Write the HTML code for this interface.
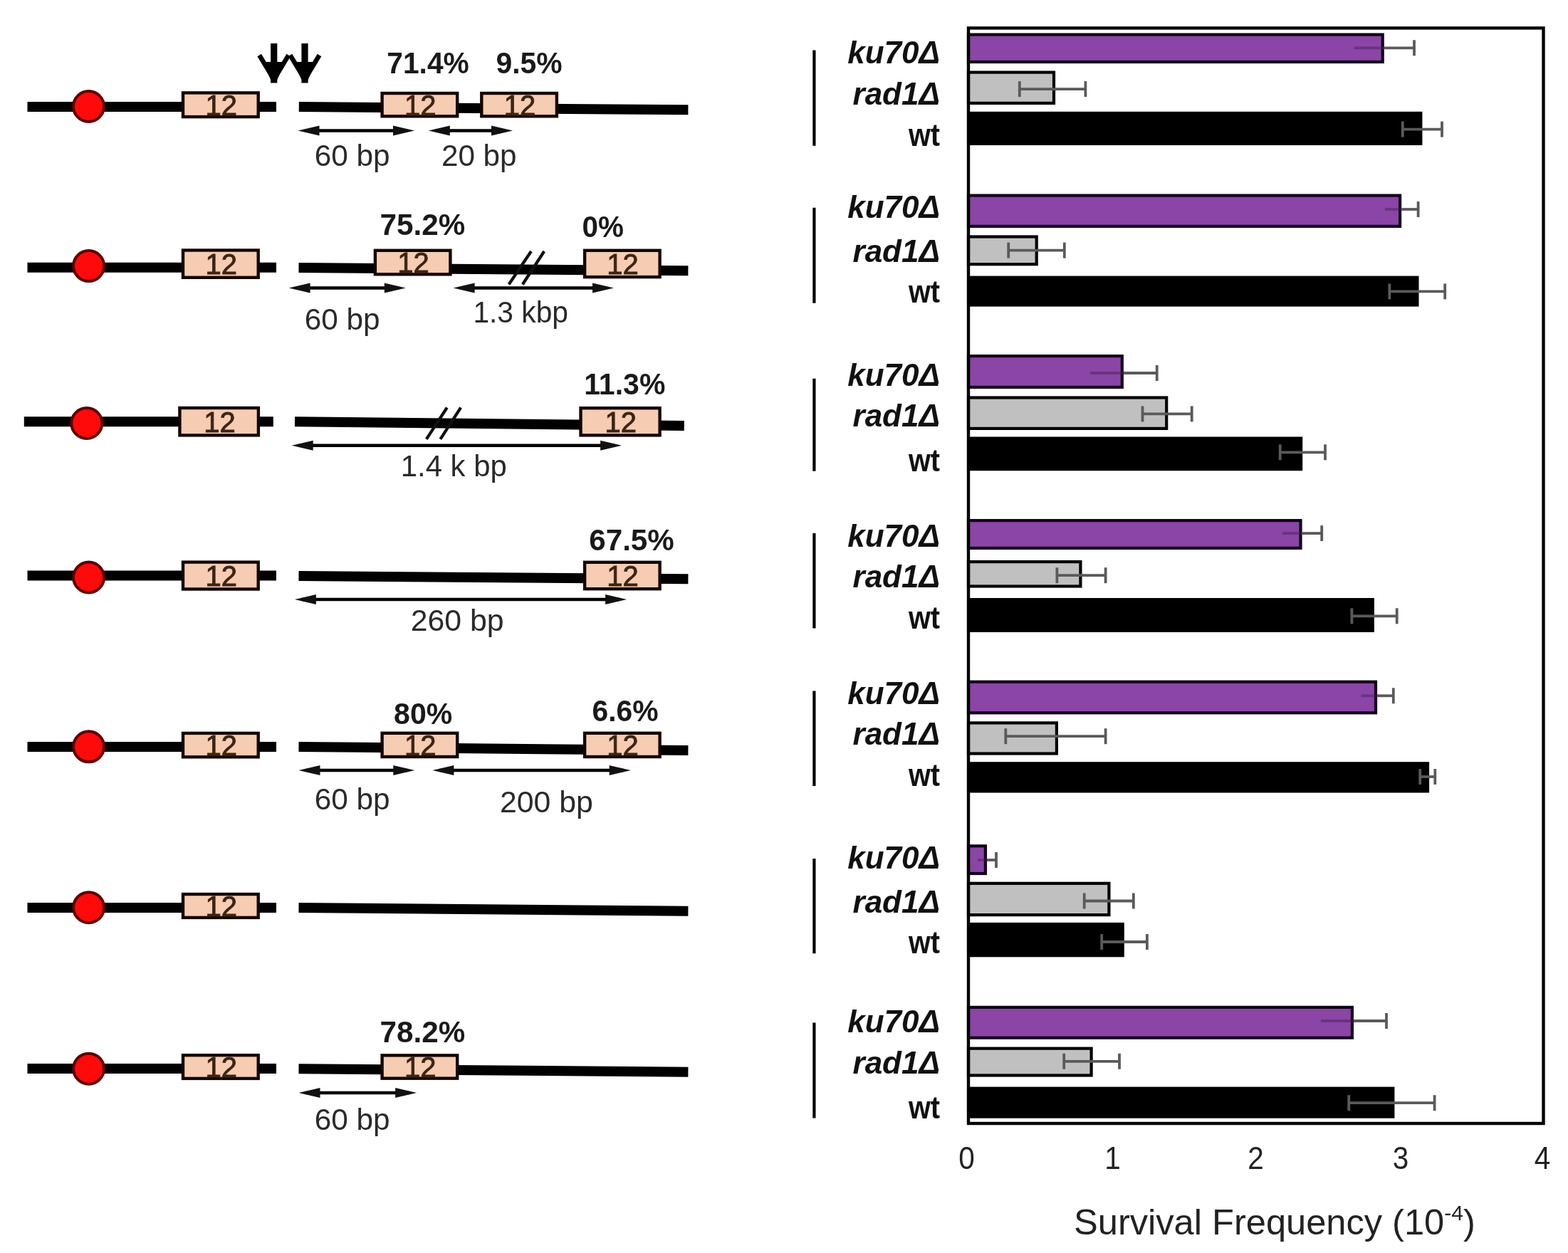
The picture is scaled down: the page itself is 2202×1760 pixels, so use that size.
<!DOCTYPE html>
<html><head><meta charset="utf-8"><title>Survival frequency figure</title>
<style>
html,body{margin:0;padding:0;background:#fff;}
svg{display:block;}
text{font-family:"Liberation Sans", Arial, sans-serif;}
</style></head>
<body>
<svg width="2202" height="1760" viewBox="0 0 2202 1760">
<rect width="2202" height="1760" fill="#fff"/>
<g>
<rect width="2202" height="1760" fill="#fff"/>
<line x1="38.5" y1="150" x2="388" y2="150" stroke="#000" stroke-width="14"/>
<line x1="419.8" y1="150" x2="966.4" y2="154.3" stroke="#000" stroke-width="14"/>
<line x1="38.5" y1="375.8" x2="388" y2="375.8" stroke="#000" stroke-width="14"/>
<line x1="419.5" y1="376" x2="966.4" y2="380.2" stroke="#000" stroke-width="14"/>
<line x1="33.8" y1="592.3" x2="383.8" y2="592.3" stroke="#000" stroke-width="14"/>
<line x1="414" y1="592.3" x2="960.8" y2="598.1" stroke="#000" stroke-width="14"/>
<line x1="38.5" y1="808.5" x2="388" y2="808.5" stroke="#000" stroke-width="14"/>
<line x1="419.5" y1="809" x2="966.4" y2="813.2" stroke="#000" stroke-width="14"/>
<line x1="38.5" y1="1049" x2="388" y2="1049" stroke="#000" stroke-width="14"/>
<line x1="419.5" y1="1049" x2="966.4" y2="1054" stroke="#000" stroke-width="14"/>
<line x1="38.5" y1="1275" x2="388" y2="1275" stroke="#000" stroke-width="14"/>
<line x1="419.5" y1="1275" x2="966.4" y2="1279.7" stroke="#000" stroke-width="14"/>
<line x1="38.5" y1="1501" x2="388" y2="1501" stroke="#000" stroke-width="14"/>
<line x1="419.5" y1="1501.3" x2="966.4" y2="1505.7" stroke="#000" stroke-width="14"/>
<line x1="714.6" y1="399.5" x2="745.9" y2="353" stroke="#111" stroke-width="4.2"/>
<line x1="733.9" y1="399.5" x2="764.2" y2="353" stroke="#111" stroke-width="4.2"/>
<line x1="598.8" y1="616.9" x2="627.8" y2="572.5" stroke="#111" stroke-width="4.2"/>
<line x1="618.4" y1="616.9" x2="647.1" y2="572.5" stroke="#111" stroke-width="4.2"/>
<circle cx="124.5" cy="149.5" r="21.5" fill="#ff0a0a" stroke="#5c0000" stroke-width="4"/>
<rect x="257.0" y="130.4" width="105.7" height="33.7" fill="#f6ccb2" stroke="#140500" stroke-width="4.4"/>
<text x="310.7" y="161.8" font-size="40" fill="#3d2413" stroke="#3d2413" stroke-width="0.9" text-anchor="middle">12</text>
<circle cx="124.6" cy="373.6" r="21.5" fill="#ff0a0a" stroke="#5c0000" stroke-width="4"/>
<rect x="257.0" y="351.5" width="105.7" height="38.3" fill="#f6ccb2" stroke="#140500" stroke-width="4.4"/>
<text x="310.7" y="385.1" font-size="40" fill="#3d2413" stroke="#3d2413" stroke-width="0.9" text-anchor="middle">12</text>
<circle cx="121.8" cy="594.5" r="21.5" fill="#ff0a0a" stroke="#5c0000" stroke-width="4"/>
<rect x="252.4" y="573.0" width="110.5" height="38.4" fill="#f6ccb2" stroke="#140500" stroke-width="4.4"/>
<text x="308.4" y="606.7" font-size="40" fill="#3d2413" stroke="#3d2413" stroke-width="0.9" text-anchor="middle">12</text>
<circle cx="124.6" cy="811" r="21.5" fill="#ff0a0a" stroke="#5c0000" stroke-width="4"/>
<rect x="257.0" y="789.6" width="105.7" height="37.9" fill="#f6ccb2" stroke="#140500" stroke-width="4.4"/>
<text x="310.7" y="823.0" font-size="40" fill="#3d2413" stroke="#3d2413" stroke-width="0.9" text-anchor="middle">12</text>
<circle cx="124.6" cy="1048.8" r="21.5" fill="#ff0a0a" stroke="#5c0000" stroke-width="4"/>
<rect x="257.0" y="1029.9" width="105.7" height="33.4" fill="#f6ccb2" stroke="#140500" stroke-width="4.4"/>
<text x="310.7" y="1061.1" font-size="40" fill="#3d2413" stroke="#3d2413" stroke-width="0.9" text-anchor="middle">12</text>
<circle cx="124.6" cy="1274.7" r="21.5" fill="#ff0a0a" stroke="#5c0000" stroke-width="4"/>
<rect x="257.0" y="1256.0" width="105.7" height="32.9" fill="#f6ccb2" stroke="#140500" stroke-width="4.4"/>
<text x="310.7" y="1286.9" font-size="40" fill="#3d2413" stroke="#3d2413" stroke-width="0.9" text-anchor="middle">12</text>
<circle cx="124.6" cy="1501.2" r="21.5" fill="#ff0a0a" stroke="#5c0000" stroke-width="4"/>
<rect x="257.0" y="1482.2" width="105.7" height="32.7" fill="#f6ccb2" stroke="#140500" stroke-width="4.4"/>
<text x="310.7" y="1513.0" font-size="40" fill="#3d2413" stroke="#3d2413" stroke-width="0.9" text-anchor="middle">12</text>
<rect x="536.6" y="131.0" width="105.6" height="32.3" fill="#f6ccb2" stroke="#140500" stroke-width="4.4"/>
<text x="590.2" y="161.7" font-size="40" fill="#3d2413" stroke="#3d2413" stroke-width="0.9" text-anchor="middle">12</text>
<rect x="676.3" y="131.0" width="105.6" height="32.3" fill="#f6ccb2" stroke="#140500" stroke-width="4.4"/>
<text x="729.9" y="161.7" font-size="40" fill="#3d2413" stroke="#3d2413" stroke-width="0.9" text-anchor="middle">12</text>
<rect x="526.9" y="351.8" width="105.5" height="33.5" fill="#f6ccb2" stroke="#140500" stroke-width="4.4"/>
<text x="580.5" y="383.1" font-size="40" fill="#3d2413" stroke="#3d2413" stroke-width="0.9" text-anchor="middle">12</text>
<rect x="821.1" y="351.8" width="105.5" height="37.3" fill="#f6ccb2" stroke="#140500" stroke-width="4.4"/>
<text x="874.6" y="385.0" font-size="40" fill="#3d2413" stroke="#3d2413" stroke-width="0.9" text-anchor="middle">12</text>
<rect x="815.5" y="573.2" width="111.1" height="38.2" fill="#f6ccb2" stroke="#140500" stroke-width="4.4"/>
<text x="871.8" y="606.8" font-size="40" fill="#3d2413" stroke="#3d2413" stroke-width="0.9" text-anchor="middle">12</text>
<rect x="821.1" y="789.8" width="105.5" height="37.4" fill="#f6ccb2" stroke="#140500" stroke-width="4.4"/>
<text x="874.6" y="823.0" font-size="40" fill="#3d2413" stroke="#3d2413" stroke-width="0.9" text-anchor="middle">12</text>
<rect x="536.6" y="1029.8" width="105.6" height="33.2" fill="#f6ccb2" stroke="#140500" stroke-width="4.4"/>
<text x="590.2" y="1060.9" font-size="40" fill="#3d2413" stroke="#3d2413" stroke-width="0.9" text-anchor="middle">12</text>
<rect x="821.1" y="1029.8" width="105.5" height="33.2" fill="#f6ccb2" stroke="#140500" stroke-width="4.4"/>
<text x="874.6" y="1060.9" font-size="40" fill="#3d2413" stroke="#3d2413" stroke-width="0.9" text-anchor="middle">12</text>
<rect x="536.6" y="1482.4" width="105.6" height="32.3" fill="#f6ccb2" stroke="#140500" stroke-width="4.4"/>
<text x="590.2" y="1513.1" font-size="40" fill="#3d2413" stroke="#3d2413" stroke-width="0.9" text-anchor="middle">12</text>
<rect x="380.09999999999997" y="61" width="9.2" height="55.5" fill="#000"/>
<line x1="364.2" y1="77.5" x2="383.7" y2="110" stroke="#000" stroke-width="6.5"/>
<line x1="405.2" y1="77.5" x2="385.7" y2="110" stroke="#000" stroke-width="6.5"/>
<polygon points="369.7,87 399.7,87 389.3,112 380.09999999999997,112" fill="#000"/>
<rect x="423.4" y="61" width="9.2" height="55.5" fill="#000"/>
<line x1="407.5" y1="77.5" x2="427.0" y2="110" stroke="#000" stroke-width="6.5"/>
<line x1="448.5" y1="77.5" x2="429.0" y2="110" stroke="#000" stroke-width="6.5"/>
<polygon points="413.0,87 443.0,87 432.6,112 423.4,112" fill="#000"/>
<text x="543.3" y="102.5" font-size="42" font-weight="bold" fill="#1a1a1a" textLength="115.5" lengthAdjust="spacingAndGlyphs">71.4%</text>
<text x="696.4" y="102.5" font-size="42" font-weight="bold" fill="#1a1a1a" textLength="93.2" lengthAdjust="spacingAndGlyphs">9.5%</text>
<text x="533.6" y="330" font-size="42" font-weight="bold" fill="#1a1a1a" textLength="119.7" lengthAdjust="spacingAndGlyphs">75.2%</text>
<text x="817.5" y="332.5" font-size="42" font-weight="bold" fill="#1a1a1a" textLength="58.4" lengthAdjust="spacingAndGlyphs">0%</text>
<text x="820.3" y="554" font-size="42" font-weight="bold" fill="#1a1a1a" textLength="114.1" lengthAdjust="spacingAndGlyphs">11.3%</text>
<text x="827.2" y="772.5" font-size="42" font-weight="bold" fill="#1a1a1a" textLength="119.7" lengthAdjust="spacingAndGlyphs">67.5%</text>
<text x="553.1" y="1017" font-size="42" font-weight="bold" fill="#1a1a1a" textLength="82.1" lengthAdjust="spacingAndGlyphs">80%</text>
<text x="831.4" y="1012.5" font-size="42" font-weight="bold" fill="#1a1a1a" textLength="93.2" lengthAdjust="spacingAndGlyphs">6.6%</text>
<text x="533.6" y="1464" font-size="42" font-weight="bold" fill="#1a1a1a" textLength="119.7" lengthAdjust="spacingAndGlyphs">78.2%</text>
<line x1="428.5" y1="183.5" x2="572" y2="183.5" stroke="#000" stroke-width="4.4"/>
<polygon points="418.5,183.5 448.5,176.5 448.5,190.5" fill="#111"/>
<polygon points="582,183.5 552,176.5 552,190.5" fill="#111"/>
<line x1="611.8" y1="183.5" x2="710" y2="183.5" stroke="#000" stroke-width="4.4"/>
<polygon points="601.8,183.5 631.8,176.5 631.8,190.5" fill="#111"/>
<polygon points="720,183.5 690,176.5 690,190.5" fill="#111"/>
<line x1="415.6" y1="404.5" x2="559.8" y2="404.5" stroke="#000" stroke-width="4.4"/>
<polygon points="405.6,404.5 435.6,397.5 435.6,411.5" fill="#111"/>
<polygon points="569.8,404.5 539.8,397.5 539.8,411.5" fill="#111"/>
<line x1="646.6" y1="404.5" x2="852" y2="404.5" stroke="#000" stroke-width="4.4"/>
<polygon points="636.6,404.5 666.6,397.5 666.6,411.5" fill="#111"/>
<polygon points="862,404.5 832,397.5 832,411.5" fill="#111"/>
<line x1="419.7" y1="625.8" x2="863.1" y2="625.8" stroke="#000" stroke-width="4.4"/>
<polygon points="409.7,625.8 439.7,618.8 439.7,632.8" fill="#111"/>
<polygon points="873.1,625.8 843.1,618.8 843.1,632.8" fill="#111"/>
<line x1="423.9" y1="842" x2="870.1" y2="842" stroke="#000" stroke-width="4.4"/>
<polygon points="413.9,842 443.9,835 443.9,849" fill="#111"/>
<polygon points="880.1,842 850.1,835 850.1,849" fill="#111"/>
<line x1="429.5" y1="1082" x2="572.3" y2="1082" stroke="#000" stroke-width="4.4"/>
<polygon points="419.5,1082 449.5,1075 449.5,1089" fill="#111"/>
<polygon points="582.3,1082 552.3,1075 552.3,1089" fill="#111"/>
<line x1="617.4" y1="1082" x2="875.7" y2="1082" stroke="#000" stroke-width="4.4"/>
<polygon points="607.4,1082 637.4,1075 637.4,1089" fill="#111"/>
<polygon points="885.7,1082 855.7,1075 855.7,1089" fill="#111"/>
<line x1="429.5" y1="1535" x2="575.1" y2="1535" stroke="#000" stroke-width="4.4"/>
<polygon points="419.5,1535 449.5,1528 449.5,1542" fill="#111"/>
<polygon points="585.1,1535 555.1,1528 555.1,1542" fill="#111"/>
<text x="441.7" y="232.5" font-size="42" fill="#2a2a2a" textLength="105.8" lengthAdjust="spacingAndGlyphs">60 bp</text>
<text x="619.9" y="232.5" font-size="42" fill="#2a2a2a" textLength="105.7" lengthAdjust="spacingAndGlyphs">20 bp</text>
<text x="427.8" y="462.5" font-size="42" fill="#2a2a2a" textLength="105.8" lengthAdjust="spacingAndGlyphs">60 bp</text>
<text x="664.4" y="453" font-size="42" fill="#2a2a2a" textLength="133.6" lengthAdjust="spacingAndGlyphs">1.3 kbp</text>
<text x="562.8" y="668.8" font-size="42" fill="#2a2a2a" textLength="148.9" lengthAdjust="spacingAndGlyphs">1.4 k bp</text>
<text x="576.7" y="886" font-size="42" fill="#2a2a2a" textLength="130.8" lengthAdjust="spacingAndGlyphs">260 bp</text>
<text x="441.7" y="1137" font-size="42" fill="#2a2a2a" textLength="105.8" lengthAdjust="spacingAndGlyphs">60 bp</text>
<text x="702" y="1141.3" font-size="42" fill="#2a2a2a" textLength="130.8" lengthAdjust="spacingAndGlyphs">200 bp</text>
<text x="441.7" y="1587" font-size="42" fill="#2a2a2a" textLength="105.8" lengthAdjust="spacingAndGlyphs">60 bp</text>
<rect x="1360" y="48.6" width="581.7" height="38.4" fill="#8a45a6" stroke="#12001a" stroke-width="4.2"/>
<rect x="1360" y="101.6" width="120.0" height="43.3" fill="#c0c0c0" stroke="#000" stroke-width="4.2"/>
<rect x="1360" y="156.8" width="637.4" height="47.2" fill="#000"/>
<line x1="1901.6" y1="67.3" x2="1943.8" y2="67.3" stroke="#4a2060" stroke-width="3.8" opacity="0.5"/>
<line x1="1943.8" y1="67.3" x2="1986" y2="67.3" stroke="#5a5a5a" stroke-width="3.8"/>
<line x1="1986" y1="56.3" x2="1986" y2="78.3" stroke="#5a5a5a" stroke-width="3.8"/>
<line x1="1431.8" y1="125.1" x2="1524.4" y2="125.1" stroke="#5a5a5a" stroke-width="3.8"/>
<line x1="1431.8" y1="114.1" x2="1431.8" y2="136.1" stroke="#5a5a5a" stroke-width="3.8"/>
<line x1="1524.4" y1="114.1" x2="1524.4" y2="136.1" stroke="#5a5a5a" stroke-width="3.8"/>
<line x1="1969.8" y1="181.6" x2="2025" y2="181.6" stroke="#5a5a5a" stroke-width="3.8"/>
<line x1="1969.8" y1="170.6" x2="1969.8" y2="192.6" stroke="#5a5a5a" stroke-width="3.8"/>
<line x1="2025" y1="170.6" x2="2025" y2="192.6" stroke="#5a5a5a" stroke-width="3.8"/>
<rect x="1360" y="274.6" width="606.1" height="43.3" fill="#8a45a6" stroke="#12001a" stroke-width="4.2"/>
<rect x="1360" y="332.5" width="95.7" height="38.7" fill="#c0c0c0" stroke="#000" stroke-width="4.2"/>
<rect x="1360" y="387.6" width="632.5" height="43.0" fill="#000"/>
<line x1="1944.8" y1="294" x2="1968.2" y2="294" stroke="#4a2060" stroke-width="3.8" opacity="0.5"/>
<line x1="1968.2" y1="294" x2="1991.6" y2="294" stroke="#5a5a5a" stroke-width="3.8"/>
<line x1="1991.6" y1="283" x2="1991.6" y2="305" stroke="#5a5a5a" stroke-width="3.8"/>
<line x1="1416.2" y1="351.6" x2="1494.8" y2="351.6" stroke="#5a5a5a" stroke-width="3.8"/>
<line x1="1416.2" y1="340.6" x2="1416.2" y2="362.6" stroke="#5a5a5a" stroke-width="3.8"/>
<line x1="1494.8" y1="340.6" x2="1494.8" y2="362.6" stroke="#5a5a5a" stroke-width="3.8"/>
<line x1="1951.3" y1="409.4" x2="2029.2" y2="409.4" stroke="#5a5a5a" stroke-width="3.8"/>
<line x1="1951.3" y1="398.4" x2="1951.3" y2="420.4" stroke="#5a5a5a" stroke-width="3.8"/>
<line x1="2029.2" y1="398.4" x2="2029.2" y2="420.4" stroke="#5a5a5a" stroke-width="3.8"/>
<rect x="1360" y="500.1" width="215.8" height="43.8" fill="#8a45a6" stroke="#12001a" stroke-width="4.2"/>
<rect x="1360" y="558.5" width="278.2" height="43.4" fill="#c0c0c0" stroke="#000" stroke-width="4.2"/>
<rect x="1360" y="613.5" width="469.2" height="47.7" fill="#000"/>
<line x1="1531.1" y1="524" x2="1577.9" y2="524" stroke="#4a2060" stroke-width="3.8" opacity="0.5"/>
<line x1="1577.9" y1="524" x2="1624.7" y2="524" stroke="#5a5a5a" stroke-width="3.8"/>
<line x1="1624.7" y1="513" x2="1624.7" y2="535" stroke="#5a5a5a" stroke-width="3.8"/>
<line x1="1604.5" y1="581.4" x2="1673.7" y2="581.4" stroke="#5a5a5a" stroke-width="3.8"/>
<line x1="1604.5" y1="570.4" x2="1604.5" y2="592.4" stroke="#5a5a5a" stroke-width="3.8"/>
<line x1="1673.7" y1="570.4" x2="1673.7" y2="592.4" stroke="#5a5a5a" stroke-width="3.8"/>
<line x1="1797.7" y1="635.3" x2="1861" y2="635.3" stroke="#5a5a5a" stroke-width="3.8"/>
<line x1="1797.7" y1="624.3" x2="1797.7" y2="646.3" stroke="#5a5a5a" stroke-width="3.8"/>
<line x1="1861" y1="624.3" x2="1861" y2="646.3" stroke="#5a5a5a" stroke-width="3.8"/>
<rect x="1360" y="731.1" width="466.5" height="38.8" fill="#8a45a6" stroke="#12001a" stroke-width="4.2"/>
<rect x="1360" y="789.1" width="157.4" height="34.4" fill="#c0c0c0" stroke="#000" stroke-width="4.2"/>
<rect x="1360" y="840.0" width="569.9" height="48.0" fill="#000"/>
<line x1="1801" y1="749.1" x2="1828.6" y2="749.1" stroke="#4a2060" stroke-width="3.8" opacity="0.5"/>
<line x1="1828.6" y1="749.1" x2="1856.2" y2="749.1" stroke="#5a5a5a" stroke-width="3.8"/>
<line x1="1856.2" y1="738.1" x2="1856.2" y2="760.1" stroke="#5a5a5a" stroke-width="3.8"/>
<line x1="1484.4" y1="808.2" x2="1552.6" y2="808.2" stroke="#5a5a5a" stroke-width="3.8"/>
<line x1="1484.4" y1="797.2" x2="1484.4" y2="819.2" stroke="#5a5a5a" stroke-width="3.8"/>
<line x1="1552.6" y1="797.2" x2="1552.6" y2="819.2" stroke="#5a5a5a" stroke-width="3.8"/>
<line x1="1898.4" y1="865.3" x2="1961.7" y2="865.3" stroke="#5a5a5a" stroke-width="3.8"/>
<line x1="1898.4" y1="854.3" x2="1898.4" y2="876.3" stroke="#5a5a5a" stroke-width="3.8"/>
<line x1="1961.7" y1="854.3" x2="1961.7" y2="876.3" stroke="#5a5a5a" stroke-width="3.8"/>
<rect x="1360" y="957.7" width="572.0" height="43.6" fill="#8a45a6" stroke="#12001a" stroke-width="4.2"/>
<rect x="1360" y="1015.4" width="123.9" height="43.1" fill="#c0c0c0" stroke="#000" stroke-width="4.2"/>
<rect x="1360" y="1070.2" width="647.1" height="43.3" fill="#000"/>
<line x1="1911.4" y1="977.3" x2="1934.1" y2="977.3" stroke="#4a2060" stroke-width="3.8" opacity="0.5"/>
<line x1="1934.1" y1="977.3" x2="1956.8" y2="977.3" stroke="#5a5a5a" stroke-width="3.8"/>
<line x1="1956.8" y1="966.3" x2="1956.8" y2="988.3" stroke="#5a5a5a" stroke-width="3.8"/>
<line x1="1412.3" y1="1034.2" x2="1552.6" y2="1034.2" stroke="#5a5a5a" stroke-width="3.8"/>
<line x1="1412.3" y1="1023.2" x2="1412.3" y2="1045.2" stroke="#5a5a5a" stroke-width="3.8"/>
<line x1="1552.6" y1="1023.2" x2="1552.6" y2="1045.2" stroke="#5a5a5a" stroke-width="3.8"/>
<line x1="1994.2" y1="1091" x2="2015.3" y2="1091" stroke="#5a5a5a" stroke-width="3.8"/>
<line x1="1994.2" y1="1080" x2="1994.2" y2="1102" stroke="#5a5a5a" stroke-width="3.8"/>
<line x1="2015.3" y1="1080" x2="2015.3" y2="1102" stroke="#5a5a5a" stroke-width="3.8"/>
<rect x="1360" y="1188.3" width="23.9" height="38.7" fill="#8a45a6" stroke="#12001a" stroke-width="4.2"/>
<rect x="1360" y="1240.8" width="197.4" height="44.3" fill="#c0c0c0" stroke="#000" stroke-width="4.2"/>
<rect x="1360" y="1295.9" width="218.8" height="48.4" fill="#000"/>
<line x1="1373" y1="1208" x2="1386" y2="1208" stroke="#4a2060" stroke-width="3.8" opacity="0.5"/>
<line x1="1386" y1="1208" x2="1399" y2="1208" stroke="#5a5a5a" stroke-width="3.8"/>
<line x1="1399" y1="1197" x2="1399" y2="1219" stroke="#5a5a5a" stroke-width="3.8"/>
<line x1="1522.7" y1="1265.5" x2="1591.8" y2="1265.5" stroke="#5a5a5a" stroke-width="3.8"/>
<line x1="1522.7" y1="1254.5" x2="1522.7" y2="1276.5" stroke="#5a5a5a" stroke-width="3.8"/>
<line x1="1591.8" y1="1254.5" x2="1591.8" y2="1276.5" stroke="#5a5a5a" stroke-width="3.8"/>
<line x1="1547.2" y1="1323" x2="1610.9" y2="1323" stroke="#5a5a5a" stroke-width="3.8"/>
<line x1="1547.2" y1="1312" x2="1547.2" y2="1334" stroke="#5a5a5a" stroke-width="3.8"/>
<line x1="1610.9" y1="1312" x2="1610.9" y2="1334" stroke="#5a5a5a" stroke-width="3.8"/>
<rect x="1360" y="1414.9" width="538.9" height="42.8" fill="#8a45a6" stroke="#12001a" stroke-width="4.2"/>
<rect x="1360" y="1472.7" width="172.6" height="37.8" fill="#c0c0c0" stroke="#000" stroke-width="4.2"/>
<rect x="1360" y="1526.6" width="598.4" height="44.1" fill="#000"/>
<line x1="1855" y1="1434" x2="1901" y2="1434" stroke="#4a2060" stroke-width="3.8" opacity="0.5"/>
<line x1="1901" y1="1434" x2="1947" y2="1434" stroke="#5a5a5a" stroke-width="3.8"/>
<line x1="1947" y1="1423" x2="1947" y2="1445" stroke="#5a5a5a" stroke-width="3.8"/>
<line x1="1494.2" y1="1490.8" x2="1572" y2="1490.8" stroke="#5a5a5a" stroke-width="3.8"/>
<line x1="1494.2" y1="1479.8" x2="1494.2" y2="1501.8" stroke="#5a5a5a" stroke-width="3.8"/>
<line x1="1572" y1="1479.8" x2="1572" y2="1501.8" stroke="#5a5a5a" stroke-width="3.8"/>
<line x1="1894.2" y1="1549.2" x2="2014.6" y2="1549.2" stroke="#5a5a5a" stroke-width="3.8"/>
<line x1="1894.2" y1="1538.2" x2="1894.2" y2="1560.2" stroke="#5a5a5a" stroke-width="3.8"/>
<line x1="2014.6" y1="1538.2" x2="2014.6" y2="1560.2" stroke="#5a5a5a" stroke-width="3.8"/>
<rect x="1360" y="39.4" width="807.5" height="1538.6" fill="none" stroke="#000" stroke-width="4.4"/>
<text transform="translate(1357.5,1642) scale(0.9,1)" font-size="45" fill="#222" text-anchor="middle">0</text>
<text transform="translate(1562.5,1642) scale(0.9,1)" font-size="45" fill="#222" text-anchor="middle">1</text>
<text transform="translate(1763.5,1642) scale(0.9,1)" font-size="45" fill="#222" text-anchor="middle">2</text>
<text transform="translate(1967,1642) scale(0.9,1)" font-size="45" fill="#222" text-anchor="middle">3</text>
<text transform="translate(2166,1642) scale(0.9,1)" font-size="45" fill="#222" text-anchor="middle">4</text>
<text x="1508" y="1733.5" font-size="50.6" fill="#222">Survival Frequency (10<tspan font-size="30" dy="-20">-4</tspan><tspan dy="20">)</tspan></text>
<line x1="1143.4" y1="70.6" x2="1143.4" y2="204.8" stroke="#000" stroke-width="4.2"/>
<text x="1320" y="89" font-size="44" font-weight="bold" font-style="italic" text-anchor="end" fill="#111">ku70Δ</text>
<text x="1320" y="147" font-size="44" font-weight="bold" font-style="italic" text-anchor="end" fill="#111">rad1Δ</text>
<text x="1320" y="205" font-size="44" font-weight="bold" text-anchor="end" fill="#111" textLength="44" lengthAdjust="spacingAndGlyphs">wt</text>
<line x1="1143.4" y1="291.8" x2="1143.4" y2="425.8" stroke="#000" stroke-width="4.2"/>
<text x="1320" y="305.7" font-size="44" font-weight="bold" font-style="italic" text-anchor="end" fill="#111">ku70Δ</text>
<text x="1320" y="367.8" font-size="44" font-weight="bold" font-style="italic" text-anchor="end" fill="#111">rad1Δ</text>
<text x="1320" y="425.2" font-size="44" font-weight="bold" text-anchor="end" fill="#111" textLength="44" lengthAdjust="spacingAndGlyphs">wt</text>
<line x1="1143.4" y1="531.7" x2="1143.4" y2="661.7" stroke="#000" stroke-width="4.2"/>
<text x="1320" y="541.5" font-size="44" font-weight="bold" font-style="italic" text-anchor="end" fill="#111">ku70Δ</text>
<text x="1320" y="599" font-size="44" font-weight="bold" font-style="italic" text-anchor="end" fill="#111">rad1Δ</text>
<text x="1320" y="661.7" font-size="44" font-weight="bold" text-anchor="end" fill="#111" textLength="44" lengthAdjust="spacingAndGlyphs">wt</text>
<line x1="1143.4" y1="749.1" x2="1143.4" y2="882.6" stroke="#000" stroke-width="4.2"/>
<text x="1320" y="767.7" font-size="44" font-weight="bold" font-style="italic" text-anchor="end" fill="#111">ku70Δ</text>
<text x="1320" y="824.6" font-size="44" font-weight="bold" font-style="italic" text-anchor="end" fill="#111">rad1Δ</text>
<text x="1320" y="882.6" font-size="44" font-weight="bold" text-anchor="end" fill="#111" textLength="44" lengthAdjust="spacingAndGlyphs">wt</text>
<line x1="1143.4" y1="970.6" x2="1143.4" y2="1104.1" stroke="#000" stroke-width="4.2"/>
<text x="1320" y="988.6" font-size="44" font-weight="bold" font-style="italic" text-anchor="end" fill="#111">ku70Δ</text>
<text x="1320" y="1046.1" font-size="44" font-weight="bold" font-style="italic" text-anchor="end" fill="#111">rad1Δ</text>
<text x="1320" y="1103.5" font-size="44" font-weight="bold" text-anchor="end" fill="#111" textLength="44" lengthAdjust="spacingAndGlyphs">wt</text>
<line x1="1143.4" y1="1205.9" x2="1143.4" y2="1339.3" stroke="#000" stroke-width="4.2"/>
<text x="1320" y="1219.8" font-size="44" font-weight="bold" font-style="italic" text-anchor="end" fill="#111">ku70Δ</text>
<text x="1320" y="1281.9" font-size="44" font-weight="bold" font-style="italic" text-anchor="end" fill="#111">rad1Δ</text>
<text x="1320" y="1339.3" font-size="44" font-weight="bold" text-anchor="end" fill="#111" textLength="44" lengthAdjust="spacingAndGlyphs">wt</text>
<line x1="1143.4" y1="1436.4" x2="1143.4" y2="1570.5" stroke="#000" stroke-width="4.2"/>
<text x="1320" y="1450.4" font-size="44" font-weight="bold" font-style="italic" text-anchor="end" fill="#111">ku70Δ</text>
<text x="1320" y="1507.8" font-size="44" font-weight="bold" font-style="italic" text-anchor="end" fill="#111">rad1Δ</text>
<text x="1320" y="1570.5" font-size="44" font-weight="bold" text-anchor="end" fill="#111" textLength="44" lengthAdjust="spacingAndGlyphs">wt</text>
</g>
</svg>
</body></html>
